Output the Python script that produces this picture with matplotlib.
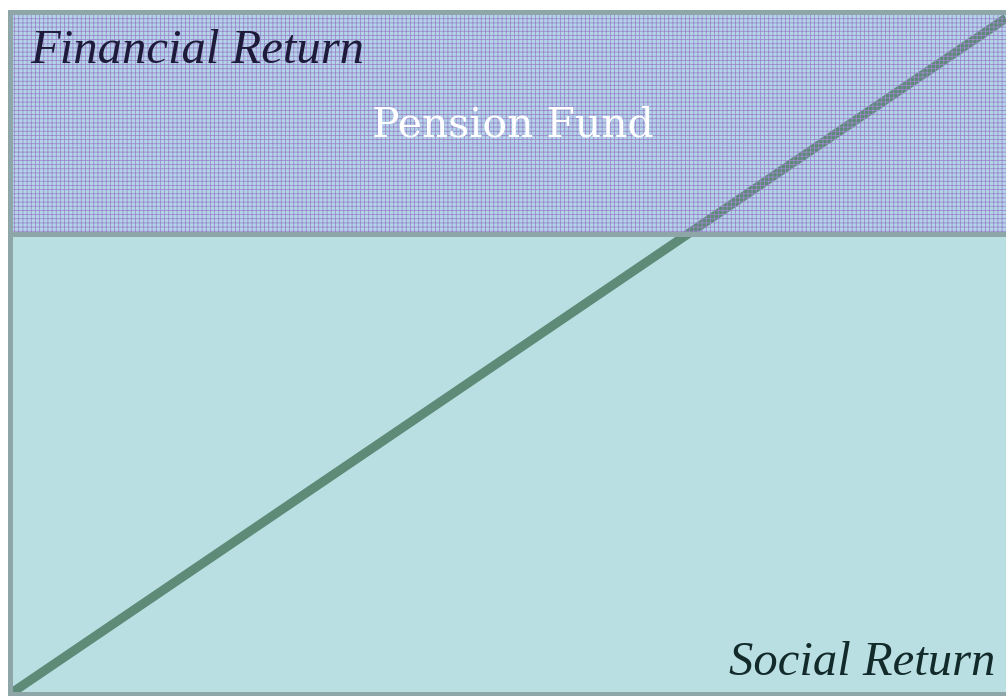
import matplotlib
matplotlib.use("Agg")
from matplotlib import pyplot as plt

# bands (fractions of the frame height)
band_names = ["Social", "Pension Fund"]
band_lo = [0.0, 0.6745]
band_hi = [0.6745, 1.0]

# diagonal line
line_x = [0.0, 1.0]
line_y = [0.0, 0.991]

labels = ["Financial Return", "Pension Fund", "Social Return"]

frame_col = "#8fa6a8"
plt.rcParams["hatch.linewidth"] = 0.55

fig = plt.figure(figsize=(10.06, 6.96), dpi=100)
fig.patch.set_facecolor("white")
ax = fig.add_axes([10 / 1006, 2 / 696, 996 / 1006, 682 / 696])
ax.set_xlim(0, 1)
ax.set_ylim(0, 1)

# lower band
ax.fill_between([0, 1], band_lo[0], band_hi[0], color="#b9dfe2", lw=0, zorder=1)
# upper band: light blue face, purple grid drawn over the line
ax.fill_between([0, 1], band_lo[1], band_hi[1], facecolor="#b4d4e8", lw=0, zorder=1)
ax.fill_between([0, 1], band_lo[1], band_hi[1], facecolor="none",
                hatch="++++", edgecolor="#9a84cc", lw=0, zorder=2.5)

ax.plot(line_x, line_y, color="#5e8a78", lw=6.6, solid_capstyle="butt", zorder=2)
ax.axhline(band_lo[1], color=frame_col, lw=3.6, zorder=3)

ax.text(0.02, 0.925, labels[0], family="Liberation Serif", style="italic",
        fontsize=35, color="#1e1a3a", va="baseline", ha="left", zorder=4)
ax.text(0.505, 0.817, labels[1], family="DejaVu Serif",
        fontsize=29.5, color="white", va="baseline", ha="center", zorder=4)
ax.text(0.989, 0.028, labels[2], family="Liberation Serif", style="italic",
        fontsize=35, color="#132a2a", va="baseline", ha="right", zorder=4)

for s in ["left", "top", "bottom"]:
    ax.spines[s].set_color(frame_col)
    ax.spines[s].set_linewidth(3.6)
ax.spines["right"].set_visible(False)
ax.set_xticks([])
ax.set_yticks([])

fig.savefig("out.png", dpi=100)
